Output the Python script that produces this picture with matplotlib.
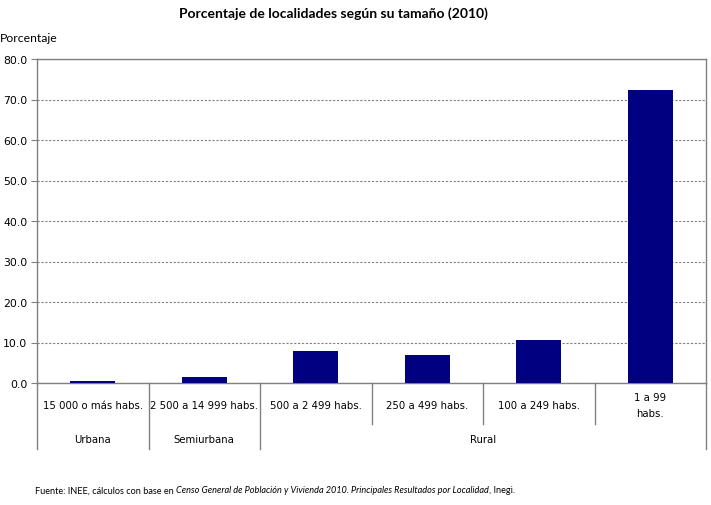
import matplotlib.pyplot as plt
import matplotlib.transforms as mtransforms
import numpy as np

categorias = ['15 000 o más habs.', '2 500 a 14 999 habs.', '500 a 2 499 habs.',
              '250 a 499 habs.', '100 a 249 habs.', '1 a 99\nhabs.']
porcentajes = [0.4, 1.5, 7.9, 7.0, 10.7, 72.3]
grupos = ['Urbana', 'Semiurbana', 'Rural']
grupo_tamanos = [1, 1, 4]

W, H = 711, 506
fig = plt.figure(figsize=(W / 100, H / 100), dpi=100)
x0, x1, y0, y1 = 37, 706, 60, 384
ax = fig.add_axes([x0 / W, 1 - y1 / H, (x1 - x0) / W, (y1 - y0) / H])

n = len(categorias)
x = np.arange(n)
ax.bar(x, porcentajes, width=0.4, color='#000080', zorder=3)
ax.set_xlim(-0.5, n - 0.5)
ax.set_ylim(0, 80)
ax.set_yticks(np.arange(0, 81, 10))
ax.set_yticklabels([f'{v:.1f}' for v in np.arange(0, 81, 10)], fontsize=7.8,
                   family='DejaVu Sans')
ax.tick_params(axis='y', direction='out', length=4, color='#808080', pad=3)
ax.set_xticks([])
ax.yaxis.grid(True, linestyle=(0, (2, 1.5)), color='#808080', linewidth=0.8, zorder=0)
for s in ax.spines.values():
    s.set_color('#808080')
    s.set_linewidth(1)

# category labels and separators below the axis
trans = mtransforms.blended_transform_factory(ax.transData, fig.transFigure)
def fy(py):
    return 1 - py / H

for i, lab in enumerate(categorias):
    ax.text(i, fy(406), lab, transform=trans,
            ha='center', va='center', fontsize=7.3, family='DejaVu Sans',
            linespacing=1.7)

bounds = np.cumsum([0] + grupo_tamanos) - 0.5
for i in range(n + 1):
    xb = i - 0.5
    bottom = 450 if xb in bounds else 425
    ax.plot([xb, xb], [fy(384), fy(bottom)], transform=trans, color='#808080',
            linewidth=1, clip_on=False)

for g, a, b in zip(grupos, bounds[:-1], bounds[1:]):
    ax.text((a + b) / 2, fy(440), g, transform=trans, ha='center', va='center',
            fontsize=7.3, family='DejaVu Sans')

fig.text(333 / W, fy(14), 'Porcentaje de localidades según su tamaño (2010)',
         ha='center', va='center', fontsize=10, fontweight='bold', family='Lato')
fig.text(0, fy(38), 'Porcentaje', ha='left', va='center', fontsize=8.8,
         family='Lato')

# footnote with mixed styles
partes = [('Fuente: INEE, cálculos con base en ', 'normal'),
          ('Censo General de Población y Vivienda 2010. Principales Resultados por Localidad', 'italic'),
          (', Inegi.', 'normal')]
renderer = fig.canvas.get_renderer()
px = 35
for txt, st in partes:
    t = fig.text(px / W, fy(491), txt, ha='left', va='center', fontsize=6.6,
                 style=st, family='Lato')
    px += t.get_window_extent(renderer).width

fig.savefig('out.png', dpi=100)
